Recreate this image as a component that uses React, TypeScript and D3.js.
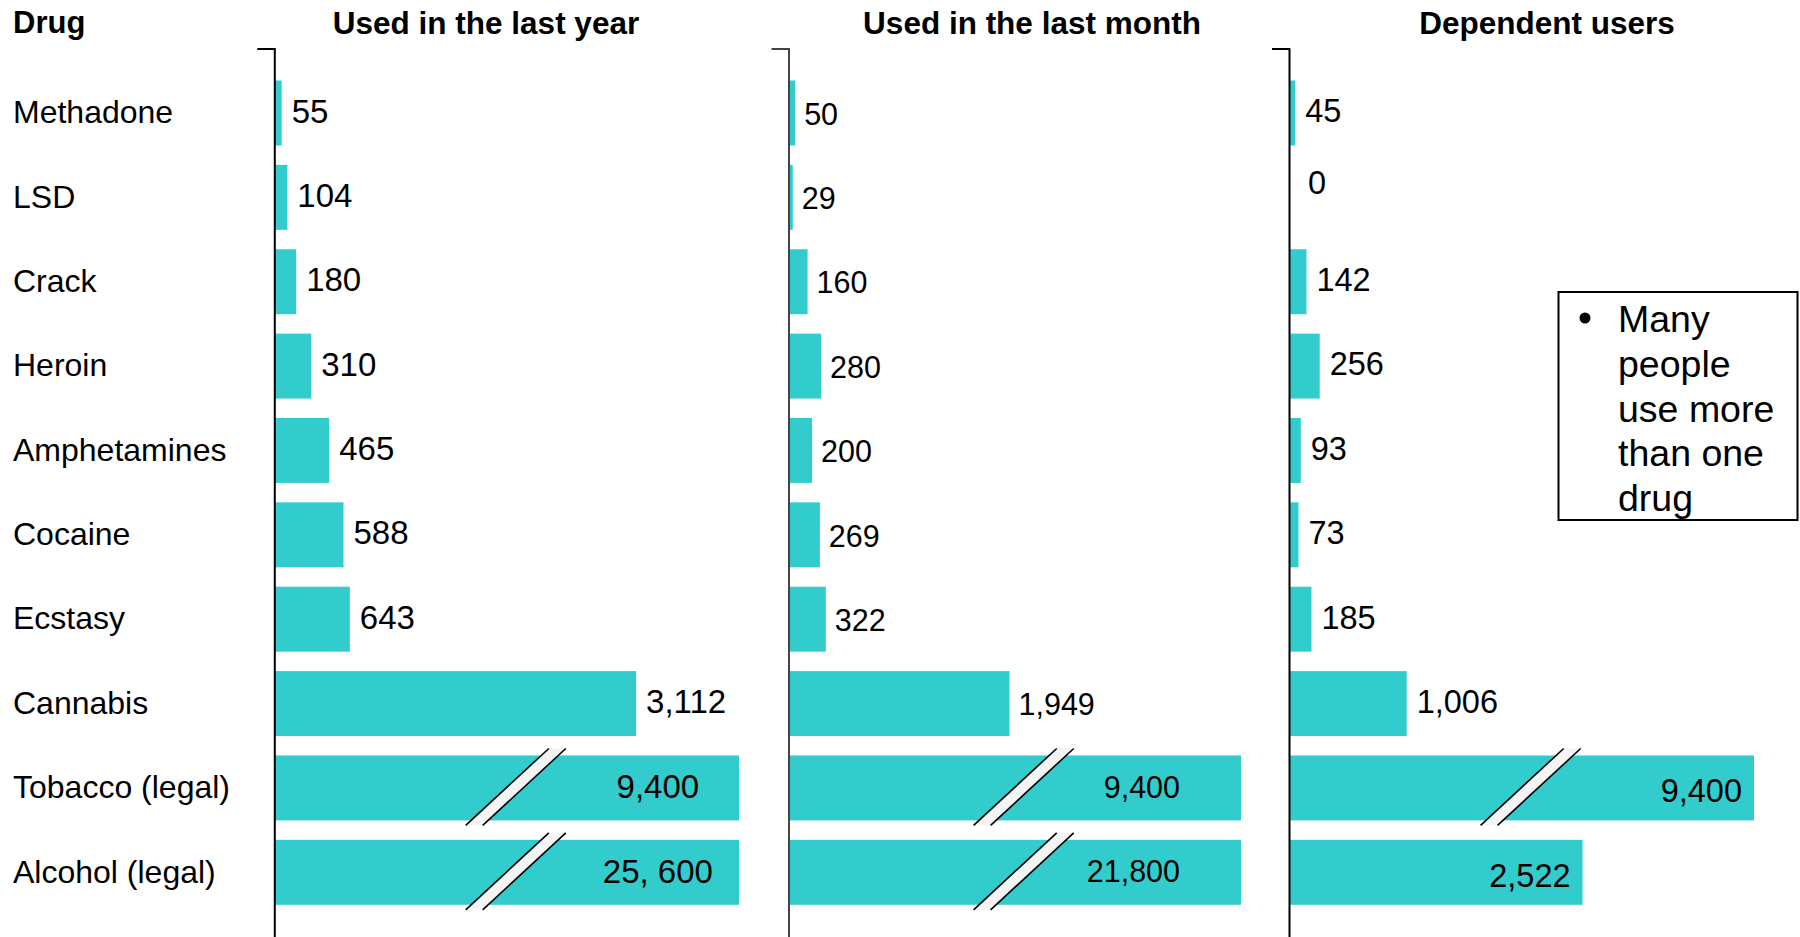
import React, { useEffect, useRef } from "react";
import * as d3 from "d3";

// ---------- data ----------
const drugs = [
  "Methadone",
  "LSD",
  "Crack",
  "Heroin",
  "Amphetamines",
  "Cocaine",
  "Ecstasy",
  "Cannabis",
  "Tobacco (legal)",
  "Alcohol (legal)",
];
const lastYear = [55, 104, 180, 310, 465, 588, 643, 3112, 9400, 25600];
const lastYearLabels = ["55", "104", "180", "310", "465", "588", "643", "3,112", "9,400", "25, 600"];
const lastMonth = [50, 29, 160, 280, 200, 269, 322, 1949, 9400, 21800];
const lastMonthLabels = ["50", "29", "160", "280", "200", "269", "322", "1,949", "9,400", "21,800"];
const dependent = [45, 0, 142, 256, 93, 73, 185, 1006, 9400, 2522];
const dependentLabels = ["45", "0", "142", "256", "93", "73", "185", "1,006", "9,400", "2,522"];
const panelTitles = ["Used in the last year", "Used in the last month", "Dependent users"];
const rowHeader = "Drug";
const noteLines = ["Many", "people", "use more", "than one", "drug"];
const insideLabelRows = ["Tobacco (legal)", "Alcohol (legal)"];
const AXIS_MAX = 4000; // bars above this are drawn broken
const BREAK_AT = 2065; // where the break mark is drawn

// ---------- layout ----------
const W = 1800;
const H = 937;
const FONT = "'Liberation Sans', Arial, Helvetica, sans-serif";
const BAR = "#33cccc";

const panels = [
  { title: panelTitles[0], values: lastYear, labels: lastYearLabels, x0: 275.3, x1: 739, titleX: 486, fs: 33, gap: 10, dy: -2, insideDy: -1, inside: { anchor: "middle", at: 3300, pad: 0 }, tickColor: "#000" },
  { title: panelTitles[1], values: lastMonth, labels: lastMonthLabels, x0: 789.5, x1: 1241, titleX: 1032, fs: 30.5, gap: 9, dy: 1, insideDy: -1, inside: { anchor: "end", at: 3460, pad: 0 }, tickColor: "#444" },
  { title: panelTitles[2], values: dependent, labels: dependentLabels, x0: 1290, x1: 1754, titleX: 1547, fs: 32.5, gap: 10, dy: -2, insideDy: 3, inside: { anchor: "end", at: null, pad: 12 }, tickColor: "#000" },
];

const y = d3.scaleBand<string>().domain(drugs).range([80.5, 904.8]).paddingInner(0.23).paddingOuter(0);

function Axis({ x, color }: { x: number; color: string }) {
  const ref = useRef<SVGGElement>(null);
  useEffect(() => {
    const s = d3.scaleLinear().domain([0, 1]).range([48.5, H + 10]);
    const ax = d3.axisLeft(s).tickValues([]).tickSizeOuter(17);
    const g = d3.select(ref.current!);
    g.call(ax as any);
    g.select(".domain").attr("stroke", color).attr("stroke-width", 2).attr("fill", "none");
  }, [x, color]);
  return <g ref={ref} transform={`translate(${x},0)`} />;
}

export default function App() {
  useEffect(() => {
    document.body.style.margin = "0";
  }, []);

  return (
    <svg width={W} height={H} style={{ display: "block", background: "#fff" }} fontFamily={FONT}>
      <text x={13} y={33} fontSize={31} fontWeight="bold" fill="#000">
        {rowHeader}
      </text>
      {drugs.map((d) => (
        <text key={d} x={13} y={y(d)! + y.bandwidth() / 2 - 1} dy="0.35em" fontSize={32} fill="#000">
          {d}
        </text>
      ))}

      {panels.map((p, pi) => {
        const xs = d3.scaleLinear().domain([0, AXIS_MAX]).range([p.x0, p.x1]);
        return (
          <g key={pi}>
            <text x={p.titleX} y={34} fontSize={31.5} fontWeight="bold" textAnchor="middle" fill="#000">
              {p.title}
            </text>
            {drugs.map((d, i) => {
              const v = p.values[i];
              const top = y(d)!;
              const bh = y.bandwidth();
              const cy = top + bh / 2;
              const end = xs(Math.min(v, AXIS_MAX));
              const broken = v > AXIS_MAX;
              const inside = insideLabelRows.includes(d);
              let lx = end + p.gap;
              let anchor: string = "start";
              let ly = cy + p.dy;
              if (inside) {
                anchor = p.inside.anchor;
                lx = p.inside.at != null ? xs(p.inside.at) : end - p.inside.pad;
                ly = cy + p.insideDy;
              }
              if (v === 0) {
                lx = end + p.gap + 8;
                ly = cy - 15;
              }
              let breakMark = null;
              if (broken) {
                const bx = xs(BREAK_AT);
                const k = 1.08;
                const g = 8.5;
                const yT = top - 7;
                const yB = top + bh + 5;
                const xb = (off: number) => bx + off - k * (yB - cy);
                const xt = (off: number) => bx + off + k * (cy - yT);
                const poly = [
                  [xb(-g), yB],
                  [xt(-g), yT],
                  [xt(g), yT],
                  [xb(g), yB],
                ]
                  .map((q) => q.join(","))
                  .join(" ");
                breakMark = (
                  <g>
                    <polygon points={poly} fill="#f4f4f4" />
                    <line x1={xb(-g)} y1={yB} x2={xt(-g)} y2={yT} stroke="#000" strokeWidth={1.6} />
                    <line x1={xb(g)} y1={yB} x2={xt(g)} y2={yT} stroke="#000" strokeWidth={1.6} />
                  </g>
                );
              }
              return (
                <g key={d}>
                  {v > 0 && <rect x={p.x0} y={top} width={end - p.x0} height={bh} fill={BAR} />}
                  {breakMark}
                  <text x={lx} y={ly} dy="0.35em" fontSize={p.fs} textAnchor={anchor as any} fill="#000">
                    {p.labels[i]}
                  </text>
                </g>
              );
            })}
            <Axis x={p.x0 - 1} color={p.tickColor} />
          </g>
        );
      })}

      <g>
        <rect x={1558.5} y={292} width={239} height={228} fill="#fff" stroke="#000" strokeWidth={2} />
        <circle cx={1585} cy={318} r={5.5} fill="#000" />
        {noteLines.map((t, i) => (
          <text key={t} x={1618} y={332 + i * 44.8} fontSize={37.5} fill="#000">
            {t}
          </text>
        ))}
      </g>
    </svg>
  );
}
